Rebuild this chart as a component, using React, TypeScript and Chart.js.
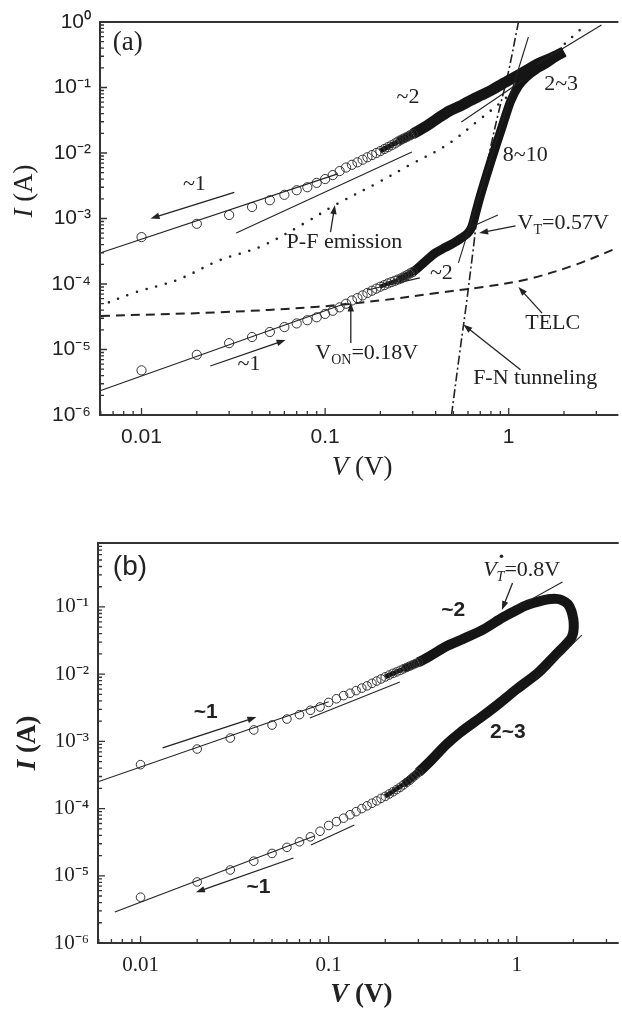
import React, { useEffect, useRef } from 'react';
import { Chart, registerables } from 'chart.js';
Chart.register(...registerables);

// ---------- data (V in volts, I in amperes) ----------
const V_CIRC = [0.01, 0.02, 0.03, 0.04, 0.05, 0.06, 0.07, 0.08, 0.09, 0.1, 0.11, 0.12, 0.13, 0.14, 0.15, 0.16, 0.17, 0.18, 0.19, 0.2, 0.21, 0.22, 0.23, 0.24, 0.25, 0.26, 0.27, 0.28, 0.29, 0.3];

// panel (a)
const A_UP_CIRC_I = [5.2e-4, 8.3e-4, 1.13e-3, 1.5e-3, 1.9e-3, 2.3e-3, 2.7e-3, 3.0e-3, 3.5e-3, 4.0e-3, 4.6e-3, 5.3e-3, 6.0e-3, 6.6e-3, 7.2e-3, 7.9e-3, 8.6e-3, 9.3e-3, 1.0e-2, 1.07e-2, 1.15e-2, 1.23e-2, 1.31e-2, 1.4e-2, 1.5e-2, 1.6e-2, 1.68e-2, 1.77e-2, 1.86e-2, 1.95e-2];
const A_LO_CIRC_I = [4.8e-6, 8.3e-6, 1.25e-5, 1.55e-5, 1.85e-5, 2.2e-5, 2.5e-5, 2.8e-5, 3.1e-5, 3.5e-5, 3.9e-5, 4.4e-5, 5.0e-5, 5.6e-5, 6.1e-5, 6.7e-5, 7.3e-5, 7.9e-5, 8.5e-5, 9.1e-5, 9.6e-5, 1.02e-4, 1.07e-4, 1.12e-4, 1.17e-4, 1.22e-4, 1.3e-4, 1.37e-4, 1.45e-4, 1.52e-4];
const A_UP_BAND_V = [0.2, 0.25, 0.3, 0.35, 0.405, 0.476, 0.55, 0.61, 0.7, 0.8, 0.93, 1.13, 1.4, 1.7, 2.0];
const A_UP_BAND_I = [0.0107, 0.015, 0.0195, 0.025, 0.033, 0.044, 0.053, 0.062, 0.075, 0.09, 0.115, 0.155, 0.22, 0.28, 0.35];
const A_LO_BAND_V = [0.2, 0.25, 0.3, 0.35, 0.4, 0.45, 0.5, 0.55, 0.6, 0.63, 0.665, 0.7, 0.752, 0.8, 0.851, 0.928, 1.025, 1.13, 1.25, 1.4, 1.6, 1.8, 2.0];
const A_LO_BAND_I = [9.1e-5, 1.17e-4, 1.52e-4, 2.2e-4, 3.0e-4, 3.6e-4, 4.2e-4, 5.0e-4, 6.0e-4, 7.5e-4, 1.3e-3, 2.2e-3, 4.3e-3, 7.5e-3, 0.0128, 0.027, 0.062, 0.105, 0.145, 0.185, 0.23, 0.29, 0.35];
const A_PF_V = [0.0059, 0.00906, 0.0156, 0.0266, 0.0453, 0.079, 0.113, 0.193, 0.29, 0.459, 0.69, 0.963, 2.44];
const A_PF_I = [4.6e-5, 7.3e-5, 1.15e-4, 2.3e-4, 3.8e-4, 8.8e-4, 1.6e-3, 3.5e-3, 6.6e-3, 0.0132, 0.032, 0.069, 0.755];
const A_TELC_V = [0.006, 0.0266, 0.0917, 0.21, 0.405, 0.725, 1.28, 2.29, 3.86];
const A_TELC_I = [3.25e-5, 3.7e-5, 4.5e-5, 5.7e-5, 7.3e-5, 9.0e-5, 1.19e-4, 1.95e-4, 3.5e-4];
const A_FN_V = [0.488, 0.539, 0.587, 0.64, 0.69, 0.78, 0.873, 0.988, 1.13];
const A_FN_I = [1e-6, 8.3e-6, 4.8e-5, 3.3e-4, 1.8e-3, 9.3e-3, 0.038, 0.155, 1.0];
const A_FIT_UP1_V = [0.006, 0.117];
const A_FIT_UP1_I = [3.0e-4, 4.8e-3];
const A_FIT_UP2_V = [0.0328, 0.297];
const A_FIT_UP2_I = [6.0e-4, 0.0104];
const A_FIT_UP3_V = [0.552, 1.2];
const A_FIT_UP3_I = [0.0297, 0.13];
const A_FIT_LO1_V = [0.006, 0.13];
const A_FIT_LO1_I = [2.37e-6, 5.1e-5];
const A_FIT_LO2_V = [0.17, 0.328];
const A_FIT_LO2_I = [8.1e-5, 1.24e-4];
const A_FIT_LO3_V = [0.61, 0.873];
const A_FIT_LO3_I = [7.2e-4, 1.13e-3];
const A_FIT_LO4_V = [0.532, 1.28];
const A_FIT_LO4_I = [2.1e-4, 0.59];
const A_FIT_LO5_V = [1.4, 3.2];
const A_FIT_LO5_I = [0.22, 0.9];

// panel (b)
const B_UP_CIRC_I = [4.5e-4, 7.7e-4, 1.12e-3, 1.48e-3, 1.75e-3, 2.15e-3, 2.5e-3, 2.9e-3, 3.25e-3, 3.8e-3, 4.3e-3, 4.8e-3, 5.2e-3, 5.7e-3, 6.2e-3, 6.7e-3, 7.3e-3, 7.9e-3, 8.5e-3, 9.1e-3, 9.7e-3, 1.03e-2, 1.08e-2, 1.14e-2, 1.2e-2, 1.26e-2, 1.32e-2, 1.38e-2, 1.44e-2, 1.5e-2];
const B_LO_CIRC_I = [4.8e-6, 8.1e-6, 1.22e-5, 1.65e-5, 2.15e-5, 2.65e-5, 3.2e-5, 3.8e-5, 4.6e-5, 5.6e-5, 6.4e-5, 7.2e-5, 8.1e-5, 9.0e-5, 1.0e-4, 1.1e-4, 1.2e-4, 1.3e-4, 1.42e-4, 1.52e-4, 1.65e-4, 1.78e-4, 1.92e-4, 2.07e-4, 2.25e-4, 2.45e-4, 2.65e-4, 2.9e-4, 3.15e-4, 3.45e-4];
const B_LOOP_V = [0.2, 0.25, 0.3, 0.35, 0.423, 0.5, 0.662, 0.844, 1.0, 1.115, 1.3, 1.47, 1.62, 1.74, 1.87, 1.95, 2.0, 2.01, 1.99, 1.93, 1.81, 1.6, 1.3, 1.0, 0.8, 0.662, 0.5, 0.423, 0.345, 0.3, 0.25, 0.2];
const B_LOOP_I = [9.1e-3, 0.012, 0.015, 0.019, 0.026, 0.032, 0.046, 0.07, 0.09, 0.105, 0.12, 0.13, 0.132, 0.126, 0.11, 0.088, 0.065, 0.05, 0.04, 0.033, 0.027, 0.019, 0.0105, 6.0e-3, 3.6e-3, 2.4e-3, 1.35e-3, 9.0e-4, 5.0e-4, 3.45e-4, 2.3e-4, 1.52e-4];
const B_FIT_UP1_V = [0.00594, 0.1];
const B_FIT_UP1_I = [2.5e-4, 3.9e-3];
const B_FIT_UP2_V = [0.0794, 0.239];
const B_FIT_UP2_I = [2.23e-3, 7.65e-3];
const B_FIT_UP3_V = [0.988, 1.75];
const B_FIT_UP3_I = [0.097, 0.235];
const B_FIT_LO1_V = [0.0073, 0.084];
const B_FIT_LO1_I = [2.9e-6, 3.9e-5];
const B_FIT_LO2_V = [0.0805, 0.137];
const B_FIT_LO2_I = [2.87e-5, 5.7e-5];
const B_FIT_LO3_V = [1.26, 2.22];
const B_FIT_LO3_I = [8.7e-3, 0.038];

// tick values
const A_X_TICKS = [0.01, 0.1, 1];
const A_Y_TICKS = [1e-6, 1e-5, 1e-4, 1e-3, 1e-2, 1e-1, 1];
const B_X_TICKS = [0.01, 0.1, 1];
const B_Y_TICKS = [1e-6, 1e-5, 1e-4, 1e-3, 1e-2, 1e-1];

// annotations (anchored in data coordinates)
type Part = { t: string; sub?: boolean; it?: boolean; dot?: boolean };
type Label = { v: number; i: number; parts: Part[]; align: 'left' | 'center' };
type Arrow = { v1: number; i1: number; v2: number; i2: number };

const A_LABELS: Label[] = [
  { v: 0.0194, i: 3.35e-3, parts: [{ t: '~1' }], align: 'center' },
  { v: 0.283, i: 0.0716, parts: [{ t: '~2' }], align: 'center' },
  { v: 1.93, i: 0.113, parts: [{ t: '2~3' }], align: 'center' },
  { v: 1.23, i: 9.3e-3, parts: [{ t: '8~10' }], align: 'center' },
  { v: 1.118, i: 8.5e-4, parts: [{ t: 'V' }, { t: 'T', sub: true }, { t: '=0.57V' }], align: 'left' },
  { v: 0.0617, i: 4.4e-4, parts: [{ t: 'P-F emission' }], align: 'left' },
  { v: 0.43, i: 1.47e-4, parts: [{ t: '~2' }], align: 'center' },
  { v: 0.0884, i: 8.9e-6, parts: [{ t: 'V' }, { t: 'ON', sub: true }, { t: '=0.18V' }], align: 'left' },
  { v: 0.0385, i: 6.0e-6, parts: [{ t: '~1' }], align: 'center' },
  { v: 1.23, i: 2.5e-5, parts: [{ t: 'TELC' }], align: 'left' },
  { v: 0.64, i: 3.7e-6, parts: [{ t: 'F-N tunneling' }], align: 'left' },
];
const A_ARROWS: Arrow[] = [
  { v1: 0.032, i1: 2.5e-3, v2: 0.0112, i2: 1.0e-3 },
  { v1: 1.09, i1: 7.7e-4, v2: 0.69, i2: 6.0e-4 },
  { v1: 0.107, i1: 6.2e-4, v2: 0.113, i2: 1.6e-3 },
  { v1: 0.138, i1: 1.26e-5, v2: 0.138, i2: 5.2e-5 },
  { v1: 0.0237, i1: 5.6e-6, v2: 0.0609, i2: 1.4e-5 },
  { v1: 1.52, i1: 3.6e-5, v2: 1.13, i2: 9e-5 },
  { v1: 1.16, i1: 4.9e-6, v2: 0.566, i2: 2.4e-5 },
];
const B_LABELS: Label[] = [
  { v: 0.0222, i: 2.7e-3, parts: [{ t: '~1' }], align: 'center' },
  { v: 0.0423, i: 6.8e-6, parts: [{ t: '~1' }], align: 'center' },
  { v: 0.46, i: 0.09, parts: [{ t: '~2' }], align: 'center' },
  { v: 0.897, i: 1.38e-3, parts: [{ t: '2~3' }], align: 'center' },
];
const B_VT_LABEL: Label = { v: 0.663, i: 0.356, parts: [{ t: 'V', it: true }, { t: 'T', sub: true, it: true, dot: true }, { t: '=0.8V' }], align: 'left' };
const B_ARROWS: Arrow[] = [
  { v1: 0.0131, i1: 8e-4, v2: 0.0413, i2: 2.3e-3 },
  { v1: 0.065, i1: 1.84e-5, v2: 0.0197, i2: 5.7e-6 },
  { v1: 0.95, i1: 0.227, v2: 0.834, i2: 0.09 },
];

// ---------- helpers ----------
const pts = (vs: number[], is: number[]) => vs.map((v, k) => ({ x: v, y: is[k] }));
const SUP: Record<string, string> = { '-': '\u207B', '0': '\u2070', '1': '\u00B9', '2': '\u00B2', '3': '\u00B3', '4': '\u2074', '5': '\u2075', '6': '\u2076', '7': '\u2077', '8': '\u2078', '9': '\u2079' };
const fmtPow = (v: number) => '10' + String(Math.round(Math.log10(v))).split('').map((c) => SUP[c]).join('');
const INK = '#222';
const SERIF = '"Liberation Serif", "Times New Roman", serif';
const SANS = '"Liberation Sans", Arial, sans-serif';

function drawRich(ctx: CanvasRenderingContext2D, parts: Part[], x: number, y: number, size: number, family: string, weight: string, align: 'left' | 'center') {
  const fontOf = (p: Part) => `${p.it ? 'italic ' : ''}${weight} ${p.sub ? Math.round(size * 0.62) : size}px ${family}`;
  const widths = parts.map((p) => { ctx.font = fontOf(p); return ctx.measureText(p.t).width; });
  const total = widths.reduce((a, b) => a + b, 0);
  let cx = align === 'center' ? x - total / 2 : x;
  ctx.textAlign = 'left';
  ctx.textBaseline = 'middle';
  ctx.fillStyle = INK;
  parts.forEach((p, k) => {
    ctx.font = fontOf(p);
    const dy = p.sub ? size * 0.32 : 0;
    ctx.fillText(p.t, cx, y + dy);
    if (p.dot) {
      ctx.beginPath();
      ctx.arc(cx + widths[k] / 2 + 1, y - size * 0.62, 1.8, 0, Math.PI * 2);
      ctx.fill();
    }
    cx += widths[k];
  });
}

function drawArrow(ctx: CanvasRenderingContext2D, x1: number, y1: number, x2: number, y2: number) {
  const ang = Math.atan2(y2 - y1, x2 - x1);
  const hl = 9, hw = 3.2;
  ctx.strokeStyle = INK;
  ctx.fillStyle = INK;
  ctx.lineWidth = 1.3;
  ctx.beginPath();
  ctx.moveTo(x1, y1);
  ctx.lineTo(x2 - Math.cos(ang) * hl * 0.8, y2 - Math.sin(ang) * hl * 0.8);
  ctx.stroke();
  ctx.beginPath();
  ctx.moveTo(x2, y2);
  ctx.lineTo(x2 - Math.cos(ang) * hl + Math.sin(ang) * hw, y2 - Math.sin(ang) * hl - Math.cos(ang) * hw);
  ctx.lineTo(x2 - Math.cos(ang) * hl - Math.sin(ang) * hw, y2 - Math.sin(ang) * hl + Math.cos(ang) * hw);
  ctx.closePath();
  ctx.fill();
}

type Spec = {
  height: number;
  padTop: number;
  yWidth: number;
  xHeight: number;
  xMin: number; xMax: number; yMin: number; yMax: number;
  xTicks: number[]; yTicks: number[];
  tickFamily: string; tickSize: number; xPad: number;
  datasets: any[];
  labels: Label[]; labelFamily: string; labelSize: number; labelWeight: string;
  extraLabels: Label[];
  arrows: Arrow[];
  letter: string; letterFamily: string; letterSize: number; letterWeight: string; letterV: number; letterI: number;
  titleWeight: string; yTitleX: number; yTitleY: number; xTitleDY: number;
};

const circles = (vs: number[], is: number[], r: number) => ({
  data: pts(vs, is), showLine: false, pointRadius: r, pointHoverRadius: r, pointStyle: 'circle',
  pointBorderWidth: 1, pointBorderColor: '#333', pointBackgroundColor: 'rgba(255,255,255,0)',
});
// thick band; its first/last segments taper so it blends with the circles
const band = (vs: number[], is: number[], w: number, taperEnd: boolean) => ({
  data: pts(vs, is), showLine: true, pointRadius: 0, borderWidth: w, borderColor: '#151515',
  borderJoinStyle: 'round', borderCapStyle: 'butt', tension: 0.3,
  segment: {
    borderWidth: (c: any) => {
      const n = vs.length - 1;
      const k = c.p0DataIndex;
      if (k === 0) return w * 0.45;
      if (k === 1) return w * 0.75;
      if (taperEnd && k === n - 1) return w * 0.45;
      if (taperEnd && k === n - 2) return w * 0.75;
      return w;
    },
  },
});
const fit = (vs: number[], is: number[]) => ({
  data: pts(vs, is), showLine: true, pointRadius: 0, borderWidth: 1.1, borderColor: '#222', tension: 0,
});
const styled = (vs: number[], is: number[], dash: number[], w: number, cap: string) => ({
  data: pts(vs, is), showLine: true, pointRadius: 0, borderWidth: w, borderColor: '#222', borderDash: dash,
  borderCapStyle: cap, tension: 0.35,
});

function decorPlugin(spec: Spec) {
  return {
    id: 'decor',
    afterDatasetsDraw(chart: any) {
      const { ctx, chartArea: ca, scales } = chart;
      const xs = scales.x, ys = scales.y;
      const X = (v: number) => xs.getPixelForValue(v);
      const Y = (v: number) => ys.getPixelForValue(v);
      ctx.save();
      // frame
      ctx.strokeStyle = '#333';
      ctx.lineWidth = 2;
      ctx.beginPath();
      ctx.moveTo(ca.right + 2, ca.top);
      ctx.lineTo(ca.left, ca.top);
      ctx.lineTo(ca.left, ca.bottom);
      ctx.lineTo(ca.right + 2, ca.bottom);
      ctx.stroke();
      // inward ticks
      ctx.lineWidth = 1.3;
      ctx.beginPath();
      for (let d = -3; d <= 1; d++) {
        for (let m = 1; m <= 9; m++) {
          const v = m * Math.pow(10, d);
          if (v < spec.xMin || v > spec.xMax) continue;
          const px = X(v);
          const len = m === 1 ? 7 : 4;
          ctx.moveTo(px, ca.bottom);
          ctx.lineTo(px, ca.bottom - len);
        }
      }
      for (let d = -7; d <= 0; d++) {
        for (let m = 1; m <= 9; m++) {
          const v = m * Math.pow(10, d);
          if (v < spec.yMin * 0.999 || v > spec.yMax * 1.001) continue;
          const py = Y(v);
          const len = m === 1 ? 7 : 4;
          ctx.moveTo(ca.left, py);
          ctx.lineTo(ca.left + len, py);
        }
      }
      ctx.stroke();
      // arrows
      spec.arrows.forEach((a) => drawArrow(ctx, X(a.v1), Y(a.i1), X(a.v2), Y(a.i2)));
      // labels
      spec.labels.forEach((l) => drawRich(ctx, l.parts, X(l.v), Y(l.i), spec.labelSize, spec.labelFamily, spec.labelWeight, l.align));
      spec.extraLabels.forEach((l) => drawRich(ctx, l.parts, X(l.v), Y(l.i), 22, SERIF, 'normal', l.align));
      // panel letter
      drawRich(ctx, [{ t: spec.letter }], X(spec.letterV), Y(spec.letterI), spec.letterSize, spec.letterFamily, spec.letterWeight, 'left');
      // axis titles
      const cx = (ca.left + ca.right) / 2 + 4;
      drawRich(ctx, [{ t: 'V', it: true }, { t: ' (V)' }], cx, ca.bottom + spec.xTitleDY, 27, SERIF, spec.titleWeight, 'center');
      ctx.save();
      ctx.translate(spec.yTitleX, spec.yTitleY);
      ctx.rotate(-Math.PI / 2);
      drawRich(ctx, [{ t: 'I', it: true }, { t: ' (A)' }], 0, 0, 27, SERIF, spec.titleWeight, 'center');
      ctx.restore();
      ctx.restore();
    },
  };
}

function buildConfig(spec: Spec): any {
  const tickFont = { family: spec.tickFamily, size: spec.tickSize };
  return {
    type: 'scatter',
    data: { datasets: spec.datasets },
    options: {
      animation: false,
      responsive: false,
      devicePixelRatio: 1,
      events: [],
      layout: { padding: { top: spec.padTop, left: 0, right: 0, bottom: 0 } },
      plugins: { legend: { display: false }, tooltip: { enabled: false } },
      scales: {
        x: {
          type: 'logarithmic', position: 'bottom', min: spec.xMin, max: spec.xMax,
          grid: { display: false, drawTicks: false }, border: { display: false },
          ticks: { autoSkip: false, maxRotation: 0, padding: spec.xPad, font: tickFont, color: INK, callback: (v: number) => String(v) },
          afterBuildTicks: (s: any) => { s.ticks = spec.xTicks.map((v) => ({ value: v })); },
          afterFit: (s: any) => { s.height = spec.xHeight; },
        },
        y: {
          type: 'logarithmic', position: 'left', min: spec.yMin, max: spec.yMax,
          grid: { display: false, drawTicks: false }, border: { display: false },
          ticks: { autoSkip: false, padding: 9, font: tickFont, color: INK, callback: (v: number) => fmtPow(v) },
          afterBuildTicks: (s: any) => { s.ticks = spec.yTicks.map((v) => ({ value: v })); },
          afterFit: (s: any) => { s.width = spec.yWidth; },
        },
      },
    },
    plugins: [decorPlugin(spec)],
  };
}

const SPEC_A: Spec = {
  height: 500, padTop: 22, yWidth: 100, xHeight: 85,
  xMin: 0.00594, xMax: 3.86, yMin: 1e-6, yMax: 1,
  xTicks: A_X_TICKS, yTicks: A_Y_TICKS,
  tickFamily: SANS, tickSize: 21, xPad: 10,
  datasets: [
    fit(A_FIT_UP1_V, A_FIT_UP1_I), fit(A_FIT_UP2_V, A_FIT_UP2_I), fit(A_FIT_UP3_V, A_FIT_UP3_I),
    fit(A_FIT_LO1_V, A_FIT_LO1_I), fit(A_FIT_LO2_V, A_FIT_LO2_I), fit(A_FIT_LO3_V, A_FIT_LO3_I),
    fit(A_FIT_LO4_V, A_FIT_LO4_I), fit(A_FIT_LO5_V, A_FIT_LO5_I),
    circles(V_CIRC, A_UP_CIRC_I, 4.6), circles(V_CIRC, A_LO_CIRC_I, 4.6),
    band(A_UP_BAND_V, A_UP_BAND_I, 11, false), band(A_LO_BAND_V, A_LO_BAND_I, 9, false),
    styled(A_PF_V, A_PF_I, [0, 10], 2.6, 'round'),
    styled(A_TELC_V, A_TELC_I, [9, 6], 2, 'butt'),
    styled(A_FN_V, A_FN_I, [9, 3, 2, 3], 1.6, 'butt'),
  ],
  labels: A_LABELS, labelFamily: SERIF, labelSize: 22, labelWeight: 'normal',
  extraLabels: [], arrows: A_ARROWS,
  letter: '(a)', letterFamily: SERIF, letterSize: 27, letterWeight: 'normal', letterV: 0.00698, letterI: 0.478,
  titleWeight: 'normal', yTitleX: 25, yTitleY: 191, xTitleDY: 53,
};

const SPEC_B: Spec = {
  height: 515, padTop: 43, yWidth: 98, xHeight: 72,
  xMin: 0.00594, xMax: 3.4, yMin: 1e-6, yMax: 0.895,
  xTicks: B_X_TICKS, yTicks: B_Y_TICKS,
  tickFamily: SERIF, tickSize: 21, xPad: 10,
  datasets: [
    fit(B_FIT_UP1_V, B_FIT_UP1_I), fit(B_FIT_UP2_V, B_FIT_UP2_I), fit(B_FIT_UP3_V, B_FIT_UP3_I),
    fit(B_FIT_LO1_V, B_FIT_LO1_I), fit(B_FIT_LO2_V, B_FIT_LO2_I), fit(B_FIT_LO3_V, B_FIT_LO3_I),
    circles(V_CIRC, B_UP_CIRC_I, 4.3), circles(V_CIRC, B_LO_CIRC_I, 4.3),
    band(B_LOOP_V, B_LOOP_I, 10, true),
  ],
  labels: B_LABELS, labelFamily: SANS, labelSize: 21, labelWeight: 'bold',
  extraLabels: [B_VT_LABEL], arrows: B_ARROWS,
  letter: '(b)', letterFamily: SANS, letterSize: 28, letterWeight: 'normal', letterV: 0.00712, letterI: 0.394,
  titleWeight: 'bold', yTitleX: 28, yTitleY: 243, xTitleDY: 52,
};

function Panel({ spec, top }: { spec: Spec; top: number }) {
  const ref = useRef<HTMLCanvasElement>(null);
  useEffect(() => {
    const chart = new Chart(ref.current as HTMLCanvasElement, buildConfig(spec));
    return () => chart.destroy();
  }, []);
  return (
    <canvas
      ref={ref}
      width={622}
      height={spec.height}
      style={{ position: 'absolute', left: 0, top, width: 622, height: spec.height, display: 'block' }}
    />
  );
}

export default function App() {
  return (
    <div style={{ position: 'absolute', left: 0, top: 0, width: 622, height: 1015, background: '#fff', overflow: 'hidden' }}>
      <Panel spec={SPEC_A} top={0} />
      <Panel spec={SPEC_B} top={500} />
    </div>
  );
}
